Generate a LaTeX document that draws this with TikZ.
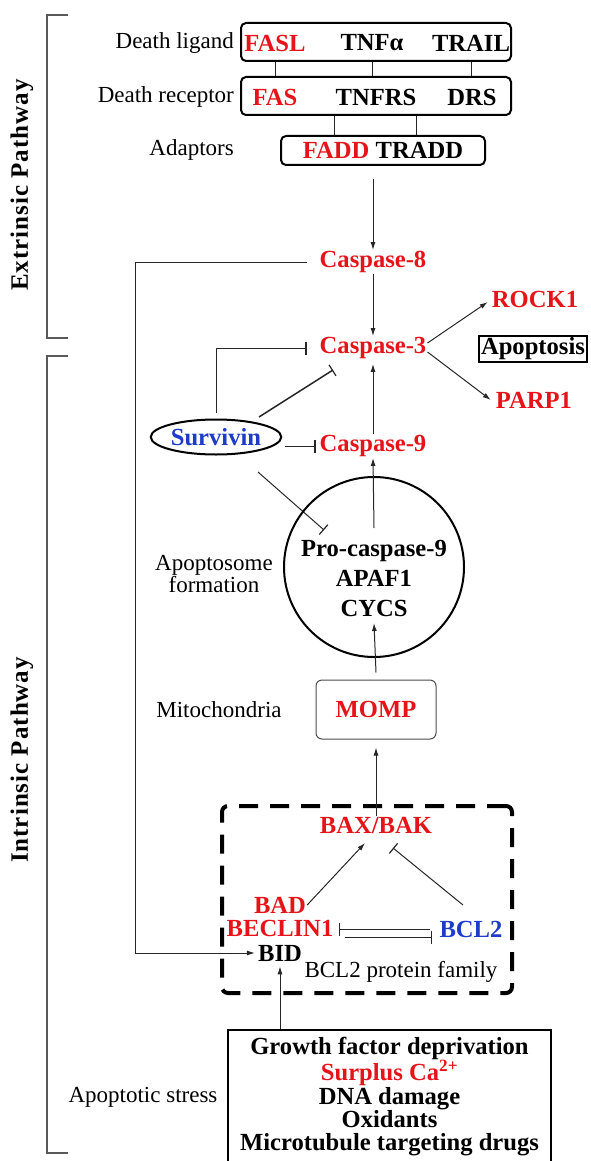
\documentclass[tikz,border=0pt]{standalone}
\usepackage{fontspec}
\setmainfont{Liberation Serif}
\usetikzlibrary{arrows.meta,shapes.geometric,calc}
\definecolor{myred}{RGB}{230,20,25}
\definecolor{myblue}{RGB}{30,60,200}
\begin{document}
\begin{tikzpicture}[x=1pt,y=-1pt,
  reg/.style={font=\fontsize{23}{25}\selectfont, inner sep=1pt},
  bld/.style={font=\fontsize{24.6}{26}\selectfont\bfseries, inner sep=1pt},
  rd/.style={text=myred},
  bl/.style={text=myblue},
  con/.style={line width=1pt, draw=black!85},
  arr/.style={con, -{Latex[length=8pt,width=5pt]}},
  inh/.style={con, -{Bar[width=13pt,line width=1.2pt]}},
  topbox/.style={draw, line width=2pt, rounded corners=5pt, minimum height=38pt},
  brk/.style={line width=1.4pt, draw=black!65},
  side/.style={font=\fontsize{25}{27}\selectfont\bfseries\addfontfeature{LetterSpace=4}, rotate=90, inner sep=0pt}
]
\useasboundingbox (0,0) rectangle (590,1161);

% brackets
\draw[brk] (68,15) -- (47,15) -- (47,338) -- (68,338);
\draw[brk] (68,356) -- (47,356) -- (47,1153) -- (68,1153);
\node[side] (ext) at (22,185) {Extrinsic Pathway};
\node[side] (int) at (22,760) {Intrinsic Pathway};

% extrinsic boxes
\node[topbox, minimum width=270pt] (lig) at (376,42) {};
\node[bld,rd] (fasl) at (275,43) {FASL};
\node[bld] (tnfa) at (372,43) {TNFα};
\node[bld] (trail) at (471,43) {TRAIL};
\node[reg,anchor=east] (ligl) at (235,43) {Death ligand};

\node[topbox, minimum width=270pt] (rec) at (376,96) {};
\node[bld,rd] (fas) at (275,97) {FAS};
\node[bld] (tnfrs) at (376,97) {TNFRS};
\node[bld] (drs) at (472,97) {DRS};
\node[reg,anchor=east] (recl) at (235,97) {Death receptor};

\node[topbox, bld, minimum width=204pt, minimum height=29pt] (ada) at (383,150.5) {\textcolor{myred}{FADD} TRADD};
\node[reg,anchor=east] (adal) at (235,150) {Adaptors};

\foreach \n in {fasl,tnfa,trail} \draw[con] (lig.south -| \n) -- (rec.north -| \n);
\draw[con] ([xshift=-42pt]rec.south) -- ([xshift=-42pt]rec.south |- ada.north);
\draw[con] ([xshift=40pt]rec.south) -- ([xshift=40pt]rec.south |- ada.north);

% caspases
\node[bld,rd] (c8) at (373,262) {Caspase-8};
\node[bld,rd] (c3) at (373,348) {Caspase-3};
\node[bld,rd] (c9) at (373,446) {Caspase-9};
\node[bld,rd] (rock) at (535,299) {ROCK1};
\node[bld,rd] (parp) at (534,400) {PARP1};
\node[bld, draw, line width=2pt, inner sep=2pt] (apo) at (533,349) {Apoptosis};

\draw[arr] ([yshift=-13pt]ada.south -| c8) -- (c8.north);
\draw[arr] (c8.south) -- (c3.north);
\draw[arr] (c9.north) -- ([yshift=-4pt]c3.south);
\draw[arr] ([yshift=5pt]c3.east) -- ([xshift=-3pt,yshift=-3pt]rock.west);
\draw[arr] ([yshift=-4pt]c3.east) -- ([xshift=-4pt]parp.west);

% survivin
\node[ellipse, draw, line width=2pt, minimum width=106pt, minimum height=35pt, inner sep=0pt, bld, bl] (surv) at (216,437) {Survivin};
\draw[inh] ([yshift=6pt]surv.north) |- ([xshift=-12pt]c3.west);
\draw[inh, line width=1.5pt] ($(surv.center)+(43,-20)$) -- ($(c3.center)+(-40,22)$);
\draw[inh] ([xshift=3pt]surv.east |- c9.west) -- ([xshift=-3pt]c9.west);
\draw[inh] ($(surv.center)+(42,35)$) -- ($(374,567)+(-50,-37)$);

% apoptosome
\node[circle, draw, line width=2pt, minimum size=180pt, inner sep=0pt] (circ) at (374,567) {};
\node[bld, align=center, font=\fontsize{24.6}{30}\selectfont\bfseries] (apt) at (374,578) {Pro-caspase-9\\APAF1\\CYCS};
\node[reg, align=center, font=\fontsize{23}{22}\selectfont] (aptl) at (214,574) {Apoptosome\\formation};
\draw[arr] ($(circ.center)+(0,-39)$) -- (c9.south);

% mitochondria
\node[draw=black!70, line width=1pt, rounded corners=6pt, minimum width=120pt, minimum height=59pt, bld, rd] (momp) at (376,709.5) {MOMP};
\node[reg] (mitl) at (219,710) {Mitochondria};
\draw[arr] ([yshift=7pt]momp.north) -- ($(circ.center)+(0,56)$);

% BCL2 family
\node[draw, line width=4pt, dash pattern=on 19pt off 12pt, rounded corners=6pt, minimum width=290pt, minimum height=187pt] (fam) at (367,899.5) {};
\node[bld,rd] (bax) at (376,825) {BAX/BAK};
\node[bld,rd,inner sep=0pt] (bad) at (280,905) {BAD};
\node[bld,rd,inner sep=0pt] (becl) at (280,928) {BECLIN1};
\node[bld,inner sep=0pt] (bid) at (280,953) {BID};
\node[bld,bl] (bcl2) at (471,929) {BCL2};
\node[reg] (faml) at (401,972) {BCL2 protein family};

\draw[arr] ([xshift=1pt]bad.east) -- ($(bax.center)+(-11,18)$);
\draw[arr] (bax.north) -- ([yshift=-8pt]momp.south);
\draw[inh] ($(bcl2.center)+(-8,-24)$) -- ($(bax.center)+(17,23)$);
\draw[inh] ([yshift=0pt,xshift=-8pt]bcl2.west) -- ([yshift=0pt,xshift=5pt]bcl2.west -| becl.east);
\draw[inh] ([yshift=-9pt,xshift=11pt]becl.east) -- ([yshift=-9pt,xshift=-6pt]becl.east -| bcl2.west);

% stress
\node[draw, line width=2pt, minimum width=323pt, minimum height=133pt, align=center, inner sep=0pt, font=\fontsize{24.6}{23.3}\selectfont\bfseries] (stress) at (389.5,1096.5) {Growth factor deprivation\\\textcolor{myred}{Surplus Ca\textsuperscript{2+}}\\DNA damage\\Oxidants\\Microtubule targeting drugs};
\node[reg] (strl) at (143,1097) {Apoptotic stress};
\draw[arr, shorten >=5pt] (stress.north -| bid) -- (bid.south);

% caspase-8 to BID
\coordinate (k) at (135,262);
\draw[arr, shorten <=12pt, shorten >=3pt] (c8.west) -- (k) |- (bid.west);
\end{tikzpicture}
\end{document}
